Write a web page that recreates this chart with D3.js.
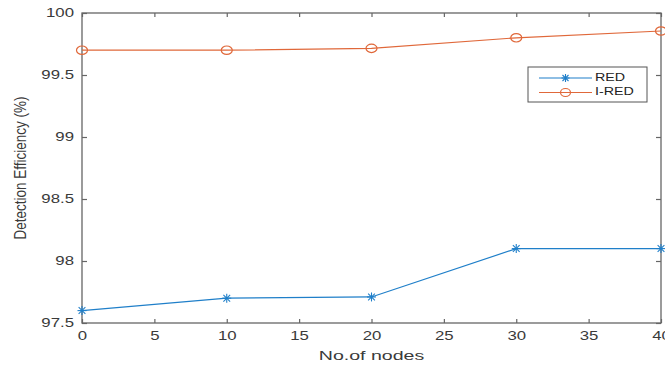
<!DOCTYPE html>
<html><head><meta charset="utf-8">
<script src="https://cdn.jsdelivr.net/npm/d3@7/dist/d3.min.js"></script>
<style>body{margin:0;background:#fff}svg{display:block}text{font-family:"Liberation Sans",Arial,Helvetica,sans-serif}</style>
</head><body><svg id="c" width="665" height="365"></svg>
<script>
const nodes = [0, 10, 20, 30, 40];
const redValues = [97.6, 97.7, 97.71, 98.1, 98.1];
const iredValues = [99.7, 99.7, 99.715, 99.8, 99.855];
const xTicks = [0, 5, 10, 15, 20, 25, 30, 35, 40];
const yTicks = [97.5, 98, 98.5, 99, 99.5, 100];
const seriesNames = ["RED", "I-RED"];

const svg = d3.select("#c");
const L = 82, R = 661, T = 13, B = 323;
const x = d3.scaleLinear().domain([0, 40]).range([L, R]);
const y = d3.scaleLinear().domain([97.5, 100]).range([B, T]);
const axisCol = "#666", textCol = "#3a3a3a";
const blue = "#1f7fc9", orange = "#e0683a";

// box
svg.append("rect").attr("x", L).attr("y", T).attr("width", R - L).attr("height", B - T)
  .attr("fill", "none").attr("stroke", axisCol).attr("stroke-width", 1.3);

// axes with inward ticks
const gx = svg.append("g").attr("transform", `translate(0,${B})`)
  .call(d3.axisBottom(x).tickValues(xTicks).tickSize(-4).tickPadding(0).tickFormat(d3.format("d")));
const gxt = svg.append("g").attr("transform", `translate(0,${T})`)
  .call(d3.axisTop(x).tickValues(xTicks).tickSize(-4).tickFormat(""));
const gy = svg.append("g").attr("transform", `translate(${L},0)`)
  .call(d3.axisLeft(y).tickValues(yTicks).tickSize(-5).tickPadding(0).tickFormat(d => String(d)));
const gyr = svg.append("g").attr("transform", `translate(${R},0)`)
  .call(d3.axisRight(y).tickValues(yTicks).tickSize(-5).tickFormat(""));
[gx, gxt, gy, gyr].forEach(g => {
  g.select(".domain").remove();
  g.selectAll(".tick line").attr("stroke", axisCol).attr("stroke-width", 1.2);
});
gx.selectAll(".tick text").each(function() {
  const t = d3.select(this);
  t.attr("y", null).attr("dy", null)
   .attr("transform", "translate(0,14) scale(1.4,1)")
   .attr("font-size", 12).attr("fill", textCol).attr("text-anchor", "middle").attr("dominant-baseline", "middle");
});
gy.selectAll(".tick text").each(function() {
  const t = d3.select(this);
  t.attr("x", null).attr("dy", null)
   .attr("transform", "translate(-8,0) scale(1.4,1)")
   .attr("font-size", 12).attr("fill", textCol).attr("text-anchor", "end").attr("dominant-baseline", "middle");
});

// labels
svg.append("text").attr("transform", `translate(${(L + R) / 2},360) scale(1.45,1)`)
  .attr("text-anchor", "middle").attr("font-size", 13.5).attr("fill", textCol).text("No.of nodes");
svg.append("text").attr("transform", `translate(26,${(T + B) / 2}) scale(1.2,1) rotate(-90)`)
  .attr("text-anchor", "middle").attr("font-size", 13.5).attr("fill", textCol).text("Detection Efficiency (%)");

// lines
const line = d3.line().x((d, i) => x(nodes[i])).y(d => y(d));
svg.append("path").datum(redValues).attr("d", line).attr("fill", "none").attr("stroke", blue).attr("stroke-width", 1.2);
svg.append("path").datum(iredValues).attr("d", line).attr("fill", "none").attr("stroke", orange).attr("stroke-width", 1.2);

function star(g, cx, cy, s, col) {
  const p = [[-s, 0, s, 0], [0, -s, 0, s], [-s * .75, -s * .75, s * .75, s * .75], [-s * .75, s * .75, s * .75, -s * .75]];
  p.forEach(q => g.append("line").attr("x1", cx + q[0]).attr("y1", cy + q[1]).attr("x2", cx + q[2]).attr("y2", cy + q[3])
    .attr("stroke", col).attr("stroke-width", 1.1));
}
const mk = svg.append("g");
redValues.forEach((v, i) => star(mk, x(nodes[i]), y(v), 4.5, blue));
iredValues.forEach((v, i) => mk.append("ellipse").attr("cx", x(nodes[i])).attr("cy", y(v)).attr("rx", 5.5).attr("ry", 4.2)
  .attr("fill", "none").attr("stroke", orange).attr("stroke-width", 1.2));

// legend
const lg = svg.append("g");
lg.append("rect").attr("x", 528).attr("y", 67).attr("width", 119).attr("height", 35)
  .attr("fill", "#fff").attr("stroke", "#555").attr("stroke-width", 1);
const cols = [blue, orange];
seriesNames.forEach((n, i) => {
  const yy = 78 + i * 14.5;
  lg.append("line").attr("x1", 539).attr("x2", 592).attr("y1", yy).attr("y2", yy).attr("stroke", cols[i]).attr("stroke-width", 1.2);
  if (i === 0) star(lg, 565.5, yy, 4, blue);
  else lg.append("ellipse").attr("cx", 565.5).attr("cy", yy).attr("rx", 5).attr("ry", 4).attr("fill", "none").attr("stroke", orange).attr("stroke-width", 1.2);
  lg.append("text").attr("transform", `translate(595,${yy}) scale(1.3,1)`).attr("dominant-baseline", "middle")
    .attr("font-size", 11).attr("fill", "#222").text(n);
});
</script></body></html>
